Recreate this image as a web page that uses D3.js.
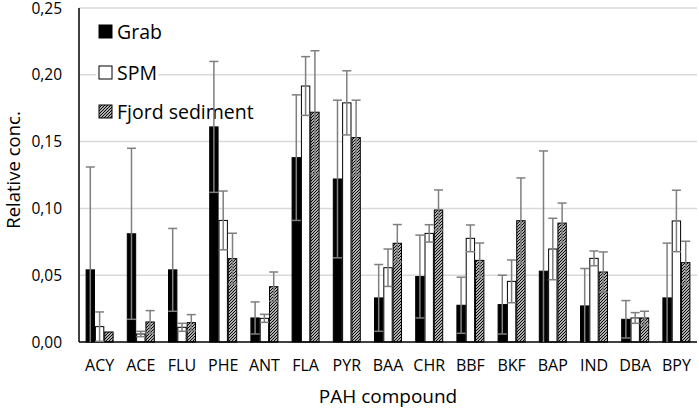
<!DOCTYPE html>
<html><head><meta charset="utf-8">
<script src="https://cdn.jsdelivr.net/npm/d3@7/dist/d3.min.js"></script>
<style>body{margin:0;background:#fff}svg{display:block}text{font-family:"Open Sans",sans-serif;fill:#000}</style>
</head><body><svg id="c" width="699" height="409"></svg>
<script>
const categories = ["ACY","ACE","FLU","PHE","ANT","FLA","PYR","BAA","CHR","BBF","BKF","BAP","IND","DBA","BPY"];
const seriesNames = ["Grab","SPM","Fjord sediment"];
const grab    = [0.054,0.081,0.054,0.161,0.018,0.138,0.122,0.033,0.049,0.0275,0.028,0.053,0.027,0.017,0.033];
const grabErr = [0.077,0.064,0.031,0.049,0.012,0.047,0.059,0.025,0.031,0.021,0.022,0.090,0.028,0.014,0.041];
const spm     = [0.0115,0.006,0.011,0.091,0.0177,0.1916,0.179,0.0556,0.0813,0.0776,0.0454,0.0696,0.0626,0.018,0.0906];
const spmErr  = [0.011,0.002,0.003,0.022,0.003,0.022,0.024,0.014,0.0065,0.010,0.016,0.023,0.0055,0.004,0.023];
const fjord   = [0.0075,0.015,0.0145,0.0624,0.0414,0.172,0.153,0.0739,0.0988,0.0611,0.0908,0.089,0.0524,0.018,0.0594];
const fjordErr= [0,0.0085,0.006,0.019,0.011,0.046,0.028,0.014,0.015,0.013,0.032,0.015,0.015,0.005,0.016];
const yTicks = [0,0.05,0.10,0.15,0.20,0.25];

const values = [grab, spm, fjord];
const errs = [grabErr, spmErr, fjordErr];

const svg = d3.select("#c");
const defs = svg.append("defs");
const pat = defs.append("pattern").attr("id","hatch").attr("patternUnits","userSpaceOnUse")
  .attr("width",3).attr("height",3);
pat.append("rect").attr("width",3).attr("height",3).attr("fill","#fff");
pat.append("path").attr("d","M-1,1 l2,-2 M0,3 l3,-3 M2,4 l2,-2").attr("stroke","#000").attr("stroke-width",1.2);

const fills = ["#000","#fff","url(#hatch)"];

const x = d3.scaleBand().domain(categories).range([79,697]).padding(0);
const y = d3.scaleLinear().domain([0,0.25]).range([342,8]);
const xs = d3.scaleBand().domain(d3.range(3)).range([-13.5,13.5]).paddingInner(0.1);

// gridlines
svg.append("g").selectAll("line").data(yTicks.filter(d=>d>0)).join("line")
  .attr("x1",79).attr("x2",697).attr("y1",d=>y(d)).attr("y2",d=>y(d))
  .attr("stroke","#d9d9d9").attr("stroke-width",1.5);

// y tick labels
svg.append("g").selectAll("text").data(yTicks).join("text")
  .attr("x",62).attr("y",d=>y(d)).attr("dy","0.36em").attr("text-anchor","end")
  .attr("font-size",15.5).text(d=>d3.format(".2f")(d).replace(".",","));

// legend backgrounds
const legY = [32,73,112];
const lg = svg.append("g");
lg.selectAll("rect.bg").data(seriesNames).join("rect").attr("class","bg")
  .attr("x",96).attr("y",(d,i)=>legY[i]-11).attr("height",22)
  .attr("width",(d,i)=>[70,62,160][i]).attr("fill","#fff");

// bars
const bars = svg.append("g");
categories.forEach((c,ci)=>{
  values.forEach((vals,si)=>{
    const bx = x(c)+x.bandwidth()/2+xs(si);
    bars.append("rect").attr("x",bx).attr("y",y(vals[ci]))
      .attr("width",xs.bandwidth()).attr("height",y(0)-y(vals[ci]))
      .attr("fill",fills[si]).attr("stroke","#000").attr("stroke-width",1);
  });
});
// error bars
const eg = svg.append("g").attr("stroke","#7f7f7f").attr("stroke-width",1.5);
categories.forEach((c,ci)=>{
  values.forEach((vals,si)=>{
    const e = errs[si][ci];
    if(!e) return;
    const cx = x(c)+x.bandwidth()/2+xs(si)+xs.bandwidth()/2;
    const hi = vals[ci]+e, lo = Math.max(0, vals[ci]-e);
    eg.append("line").attr("x1",cx).attr("x2",cx).attr("y1",y(lo)).attr("y2",y(hi));
    eg.append("line").attr("x1",cx-4.5).attr("x2",cx+4.5).attr("y1",y(hi)).attr("y2",y(hi));
    if(vals[ci]-e>0) eg.append("line").attr("x1",cx-4.5).attr("x2",cx+4.5).attr("y1",y(lo)).attr("y2",y(lo));
  });
});

// axes lines
svg.append("line").attr("x1",79).attr("x2",79).attr("y1",8).attr("y2",342).attr("stroke","#000").attr("stroke-width",1.5);
svg.append("line").attr("x1",79).attr("x2",697).attr("y1",342).attr("y2",342).attr("stroke","#000").attr("stroke-width",1.5);

// x labels
svg.append("g").selectAll("text").data(categories).join("text")
  .attr("x",d=>x(d)+x.bandwidth()/2).attr("y",371).attr("text-anchor","middle")
  .attr("font-size",16).text(d=>d);

// titles
svg.append("text").attr("x",388).attr("y",403).attr("text-anchor","middle").attr("font-size",19).text("PAH compound");
svg.append("text").attr("transform","translate(20,170) rotate(-90)").attr("text-anchor","middle").attr("font-size",18.5).text("Relative conc.");

// legend
lg.raise();
lg.selectAll("rect.sw").data(seriesNames).join("rect").attr("class","sw")
  .attr("x",99).attr("y",(d,i)=>legY[i]-7).attr("width",13).attr("height",13)
  .attr("fill",(d,i)=>fills[i]).attr("stroke","#000").attr("stroke-width",1);
lg.selectAll("text").data(seriesNames).join("text")
  .attr("x",117).attr("y",(d,i)=>legY[i]).attr("dy","0.36em").attr("font-size",19.5).text(d=>d);
eg.raise();
</script></body></html>
